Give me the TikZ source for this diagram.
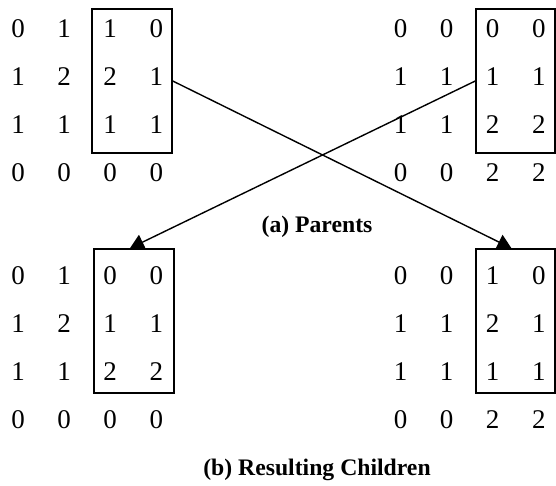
\documentclass[tikz,border=0pt]{standalone}
\usepackage{fontspec}
\setmainfont{Liberation Serif}
\usetikzlibrary{arrows.meta,calc}
\tikzset{
  digit/.style={font=\fontsize{27}{27}\selectfont, inner sep=0pt},
  captext/.style={font=\fontsize{23.7}{24}\selectfont\bfseries, inner sep=0pt},
  selbox/.style={draw, line width=1.5pt, inner sep=0pt},
  xarrow/.style={line width=1.4pt, -{Triangle[length=14pt,width=16pt]}}
}
\begin{document}
\begin{tikzpicture}[x=1pt,y=-1pt]
\useasboundingbox (0,0) rectangle (556,485);
% matrices
\foreach \name/\xo/\yo/\data in {
  TL/18/29/{{0,1,1,0},{1,2,2,1},{1,1,1,1},{0,0,0,0}},
  TR/400.5/29/{{0,0,0,0},{1,1,1,1},{1,1,2,2},{0,0,2,2}},
  BL/18/275.5/{{0,1,0,0},{1,2,1,1},{1,1,2,2},{0,0,0,0}},
  BR/400.5/275.5/{{0,0,1,0},{1,1,2,1},{1,1,1,1},{0,0,2,2}}} {
  \foreach \row [count=\r from 0] in \data {
    \foreach \v [count=\c from 0] in \row {
      \node[digit] (\name-\r-\c) at ({\xo+\c*46.1},{\yo+\r*48}) {\v};
    }
  }
}
% boxes
\node[selbox, minimum width=80pt, minimum height=144pt] (boxTL) at (132,81) {};
\node[selbox, minimum width=79pt, minimum height=144pt] (boxTR) at (515.5,81) {};
\node[selbox, minimum width=80pt, minimum height=144pt] (boxBL) at (134,321) {};
\node[selbox, minimum width=79pt, minimum height=144pt] (boxBR) at (515.5,321) {};
% arrow ends
\coordinate (endBR) at ($(boxBR.north west)!0.45!(boxBR.north east)$);
\coordinate (endBL) at ($(boxBL.north west)!0.45!(boxBL.north east)$);
\draw[xarrow] (boxTL.east) -- (endBR);
\draw[xarrow] (boxTR.west) -- (endBL);
% captions
\node[captext] (capA) at (317,227) {(a) Parents};
\node[captext] (capB) at (317,470) {(b) Resulting Children};
\end{tikzpicture}
\end{document}
